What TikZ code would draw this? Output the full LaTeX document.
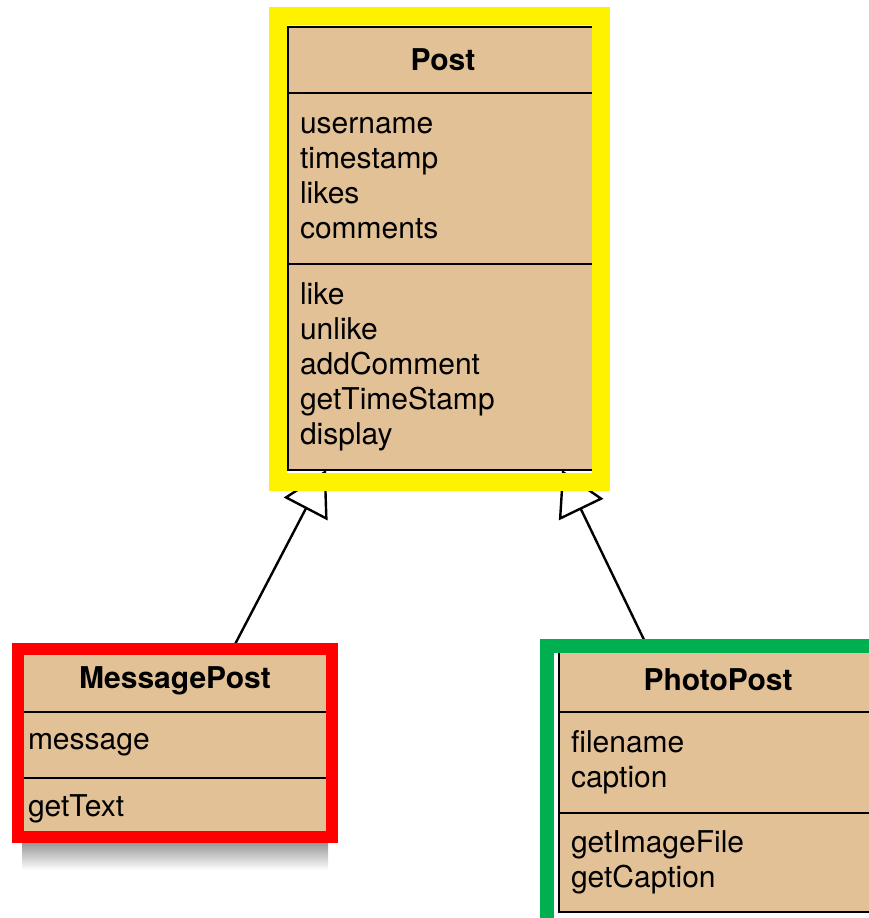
\documentclass[tikz,border=0pt]{standalone}
\usepackage{fontspec}
\setmainfont{TeX Gyre Heros}
\usepackage{xcolor}
\usepackage{tikz}
\usetikzlibrary{positioning, arrows.meta}

\definecolor{classtan}{HTML}{E2C196}
\definecolor{framegreen}{HTML}{00B050}

\tikzset{
  classpart/.style={rectangle, draw, line width=2.4pt, fill=classtan, outer sep=0pt,
    inner xsep=12pt, inner ysep=2pt, align=left, font=\fontsize{30}{35}\selectfont},
  classname/.style={classpart, align=center, font=\fontsize{30}{35}\selectfont\bfseries},
  classframe/.style={rectangle, draw, fill=none, inner sep=0pt},
  inherits/.style={-{Triangle[open, length=44pt, width=49pt]}, line width=2.4pt},
}

\begin{document}
\begin{tikzpicture}[x=1pt, y=-1pt]
\useasboundingbox (0,0) rectangle (868,918);
% Post
\node (postname) [classname, text width=286pt, minimum height=66pt, anchor=north west] at (288,27) {Post};
\node (postattrs) [classpart, text width=286pt, minimum height=171pt, below=0pt of postname] {username\\timestamp\\likes\\comments};
\node (postmethods) [classpart, text width=286pt, minimum height=206pt, below=0pt of postattrs] {like\\unlike\\addComment\\getTimeStamp\\display};
% MessagePost
\node (msgname) [classname, text width=294pt, minimum height=62pt, anchor=north west] at (16,650) {MessagePost};
\node (msgattrs) [classpart, text width=294pt, minimum height=66pt, below=0pt of msgname] {message};
\node (msgmethods) [classpart, text width=294pt, minimum height=62pt, below=0pt of msgattrs] {getText};
% PhotoPost
\node (photoname) [classname, text width=294pt, minimum height=64pt, anchor=north west] at (559,648) {PhotoPost};
\node (photoattrs) [classpart, text width=294pt, minimum height=101pt, below=0pt of photoname] {filename\\caption};
\node (photomethods) [classpart, text width=294pt, minimum height=99pt, below=0pt of photoattrs] {getImageFile\\getCaption};
% inheritance
\draw [inherits] ([xshift=57pt]msgname.north) -- ([xshift=-117pt]postmethods.south);
\draw [inherits] ([xshift=-70pt]photoname.north) -- ([xshift=119pt]postmethods.south);
% shadow and frames
\fill [top color=black!40, bottom color=white] (22,843) rectangle (328,870);
\node (postframe) [classframe, draw=yellow, line width=18pt, minimum width=323pt, minimum height=466pt] at (439,249) {};
\node (msgframe) [classframe, draw=red, line width=12.5pt, minimum width=314pt, minimum height=188pt] at (175,743) {};
\node (photoframe) [classframe, draw=framegreen, line width=14pt, minimum width=343pt, minimum height=279pt] at (718.5,785.5) {};
\end{tikzpicture}
\end{document}
